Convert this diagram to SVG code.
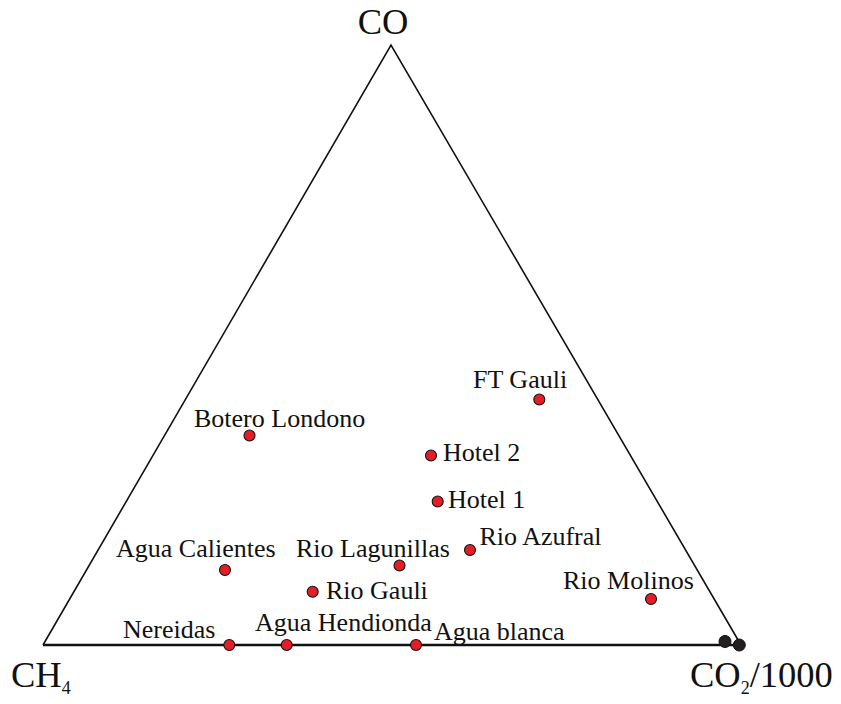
<svg xmlns="http://www.w3.org/2000/svg" width="841" height="704" viewBox="0 0 841 704">
<style>
.lbl{font-family:"Liberation Serif","Times New Roman",serif;font-size:26px;fill:#111}
.big{font-family:"Liberation Serif","Times New Roman",serif;font-size:36.5px;fill:#111}
.sub{font-size:18px}
.pt{fill:#e41e26;stroke:#111;stroke-width:1.1}
.bk{fill:#231f20;stroke:#111;stroke-width:1}
.ax{fill:none;stroke:#111;stroke-width:1.6}
</style>
<rect width="841" height="704" fill="#fff"/>
<g id="axes">
<path class="ax" d="M43 645 L391 45 L741 645"/>
<line x1="43" y1="645" x2="741" y2="645" stroke="#111" stroke-width="2.4"/>
</g>
<g id="vertex-labels">
<text class="big" x="383" y="34" text-anchor="middle">CO</text>
<text class="big" x="11" y="687">CH<tspan class="sub" dy="7">4</tspan></text>
<text class="big" x="690" y="687">CO<tspan class="sub" dy="7">2</tspan><tspan dy="-7">/1000</tspan></text>
</g>
<g id="ft-gauli"><circle class="pt" cx="539.3" cy="399.5" r="5.5"/><text class="lbl" x="473" y="388">FT Gauli</text></g>
<g id="botero-londono"><circle class="pt" cx="249.5" cy="435.5" r="5.5"/><text class="lbl" x="194" y="426.5">Botero Londono</text></g>
<g id="hotel-2"><circle class="pt" cx="431" cy="455.5" r="5.5"/><text class="lbl" x="443" y="461">Hotel 2</text></g>
<g id="hotel-1"><circle class="pt" cx="437.7" cy="501.5" r="5.5"/><text class="lbl" x="448" y="507.5">Hotel 1</text></g>
<g id="rio-azufral"><circle class="pt" cx="470" cy="550" r="5.5"/><text class="lbl" x="479.5" y="545">Rio Azufral</text></g>
<g id="rio-lagunillas"><circle class="pt" cx="399.5" cy="565.5" r="5.5"/><text class="lbl" x="296" y="557">Rio Lagunillas</text></g>
<g id="agua-calientes"><circle class="pt" cx="225" cy="570" r="5.5"/><text class="lbl" x="116" y="557">Agua Calientes</text></g>
<g id="rio-gauli"><circle class="pt" cx="312.7" cy="591.7" r="5.5"/><text class="lbl" x="326" y="599">Rio Gauli</text></g>
<g id="rio-molinos"><circle class="pt" cx="651" cy="599" r="5.5"/><text class="lbl" x="563" y="588.5">Rio Molinos</text></g>
<g id="nereidas"><circle class="pt" cx="229.3" cy="645" r="5.5"/><text class="lbl" x="123" y="638">Nereidas</text></g>
<g id="agua-hendionda"><circle class="pt" cx="286.7" cy="645" r="5.5"/><text class="lbl" x="255" y="631">Agua Hendionda</text></g>
<g id="agua-blanca"><circle class="pt" cx="416" cy="645" r="5.5"/><text class="lbl" x="434" y="640">Agua blanca</text></g>
<g id="co2-end-1"><circle class="bk" cx="725" cy="641.5" r="6"/></g>
<g id="co2-end-2"><circle class="bk" cx="739.3" cy="645" r="6"/></g>
</svg>
